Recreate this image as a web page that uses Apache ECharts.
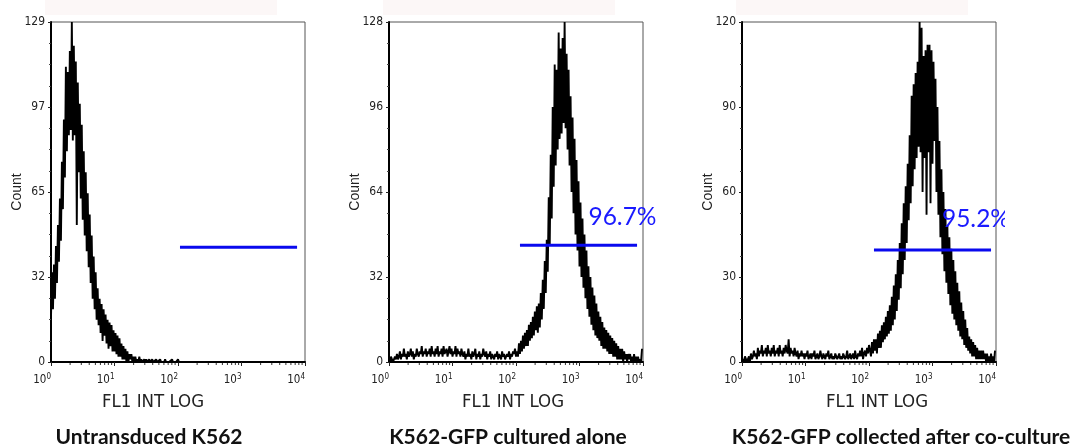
<!DOCTYPE html>
<html><head><meta charset="utf-8">
<script src="https://cdn.jsdelivr.net/npm/echarts@6/dist/echarts.min.js"></script>
<style>html,body{margin:0;padding:0;background:#fff}#c{width:1076px;height:447px}</style>
</head><body><div id="c"></div>
<script>
// ---- data (counts per channel, 64 channels per decade) ----
const panelTitles = ['Untransduced K562', 'K562-GFP cultured alone', 'K562-GFP collected after co-culture'];
const xAxisTitle = 'FL1 INT LOG';
const yAxisTitle = 'Count';
const yMax = [129, 128, 120];
const decadeMin = 1, decadeMax = 10000;

const countsUntransduced = [
17,34,20,37,24,44,30,52,38,62,
46,76,58,92,70,112,80,110,86,118,
88,129,84,120,86,114,52,106,72,98,
62,90,54,80,48,72,42,64,36,56,
30,48,24,40,20,34,16,28,14,24,
11,22,8,20,10,18,7,16,5,15,
6,14,4,12,4,11,3,10,2,9,
2,7,1,6,1,5,0,4,0,3,
1,3,0,2,0,2,0,1,0,2,
0,1,0,0,1,0,1,0,0,1,
0,0,1,0,0,0,1,0,0,0,
1,0,0,0,0,1,0,0,0,0,
0,0,1,0,0,0,0,0,1,0,0
];
const countsAlone = [
1,0,2,1,0,1,2,1,3,1,
2,4,1,3,2,5,2,3,1,4,
2,3,5,2,4,1,3,2,5,3,
2,4,3,6,2,4,3,5,2,4,
3,5,2,6,3,4,2,5,3,6,
2,4,3,5,2,6,3,4,5,2,
4,6,3,5,2,4,3,6,2,5,
3,4,2,5,3,2,4,1,3,2,
5,2,3,1,4,2,3,5,1,3,
2,4,1,3,2,5,3,2,4,1,
3,2,4,1,3,2,1,3,2,4,
1,3,2,1,4,2,3,1,2,3,
2,4,1,3,2,4,3,5,2,4,
2,7,3,8,4,10,5,11,6,12,
6,14,8,15,9,17,10,19,12,21,
11,22,13,26,16,31,20,38,26,46,
34,62,44,78,54,96,66,112,74,110,
80,124,84,118,86,122,90,128,88,116,
80,110,74,100,64,92,56,84,48,76,
42,68,36,60,32,54,28,48,24,42,
20,36,17,32,14,28,12,25,10,22,
9,19,8,17,6,15,5,13,5,12,
4,11,3,10,3,9,2,8,2,7,
1,6,1,5,1,5,0,4,1,3,
0,3,1,3,0,2,0,3,0,2,
0,2,0,1,0,5
];
const countsCoculture = [
0,1,0,2,1,0,1,2,0,3,
1,2,4,2,3,1,5,2,4,3,
6,2,4,3,5,2,6,3,4,2,
5,3,6,2,4,3,5,2,6,3,
4,2,5,3,6,4,3,8,2,5,
3,4,2,5,3,2,4,1,3,2,
4,2,3,1,3,2,4,1,2,3,
1,3,2,4,1,2,3,1,2,4,
2,1,3,2,1,3,2,4,1,2,
3,1,2,1,3,2,1,2,3,1,
2,1,3,2,1,2,4,1,2,3,
1,2,3,1,4,2,1,3,2,4,
2,5,1,3,4,2,5,3,6,4,
2,7,3,8,4,8,3,10,5,11,
5,13,7,14,8,16,9,18,10,20,
11,23,13,27,15,31,18,36,22,42,
26,49,31,56,36,62,42,70,50,80,
56,94,62,98,68,102,72,106,76,120,
74,118,60,108,72,110,52,112,74,112,
56,110,70,106,78,100,60,90,52,78,
44,68,38,60,32,54,28,48,24,44,
20,40,17,36,15,32,13,28,11,25,
9,21,8,18,6,15,5,12,4,9,
3,8,2,7,2,6,1,5,1,4,
1,4,1,4,1,3,0,3,0,2,
0,3,0,2,0,4
];
const panelCounts = [countsUntransduced, countsAlone, countsCoculture];
const channelMax = 256;
// gates (channel range and level in counts) and percentages
const gateFrom = [130, 132, 133];
const gateTo = [248, 250, 251];
const gateLevel = [43.5, 44, 39.5];
const gatePercent = ['', '96.7%', '95.2%'];
// minor tick values of the log axis (2..9 in each decade)
const minorTickValues = [];
for (let d = 1; d < decadeMax; d *= 10) for (let m = 2; m <= 9; m++) minorTickValues.push(m * d);

// ---- layout ----
const gridLeft = [51, 389, 742];
const gridTop = 22, gridW = 254, gridH = 340;
const axisTitleX = [153, 513, 877];
const captionX = [149, 508, 901];
const labelAnchor = [null, [201, 54.5], [201.5, 50.5]];

const chart = echarts.init(document.getElementById('c'), null, {renderer: 'canvas'});
const grids = [], xAxes = [], yAxes = [], series = [], graphics = [];
const tickFont = 'Liberation Sans, Arial, sans-serif';
const narrowFont = '"Liberation Sans Narrow", "Arial Narrow", "DejaVu Sans Condensed", sans-serif';

for (let p = 0; p < 3; p++) {
  grids.push({left: gridLeft[p], top: gridTop, width: gridW, height: gridH, show: true, borderColor: '#555', borderWidth: 1, backgroundColor: 'transparent'});
  // hidden channel axis used for the data
  xAxes.push({gridIndex: p, type: 'value', min: 0, max: channelMax, show: false});
  // visible log intensity axis
  xAxes.push({
    gridIndex: p, type: 'log', logBase: 10, min: decadeMin, max: decadeMax, position: 'bottom',
    axisLine: {show: true, lineStyle: {color: '#000', width: 2}},
    axisTick: {show: true, length: 4, lineStyle: {color: '#222', width: 1}},
    splitLine: {show: false},
    axisLabel: {
      margin: 11, align: 'right',
      formatter: v => '{b|10}{s|' + Math.round(Math.log10(v)) + '}',
      rich: {
        b: {fontSize: 11.5, fontFamily: narrowFont, color: '#222'},
        s: {fontSize: 8, fontFamily: narrowFont, color: '#222', padding: [0, 0, 7, 0]}
      }
    }
  });
  yAxes.push({
    gridIndex: p, type: 'value', min: 0, max: yMax[p], interval: yMax[p] / 4,
    name: yAxisTitle, nameLocation: 'middle', nameGap: 27, nameRotate: 90, nameMoveOverlap: false,
    nameTextStyle: {fontSize: 14, fontFamily: tickFont, color: '#222'},
    axisLine: {show: true, lineStyle: {color: '#000', width: 2}},
    axisTick: {show: true, length: 3, lineStyle: {color: '#222'}},
    minorTick: {show: true, splitNumber: 4, length: 2, lineStyle: {color: '#444'}},
    splitLine: {show: false},
    axisLabel: {fontSize: 12, fontFamily: narrowFont, color: '#222', margin: 6, formatter: v => String(Math.round(v))}
  });
  const xi = p * 2;
  series.push({
    type: 'line', xAxisIndex: xi, yAxisIndex: p, showSymbol: false, symbol: 'none',
    data: panelCounts[p].map((c, i) => [i, c]),
    lineStyle: {color: '#000', width: 1.9}, animation: false, z: 2
  });
  const gate = {
    type: 'line', xAxisIndex: xi, yAxisIndex: p, symbol: 'none',
    data: [[gateFrom[p], gateLevel[p]], [gateTo[p], gateLevel[p]]],
    lineStyle: {color: '#0a0aee', width: 3}, animation: false, z: 5
  };
  if (gatePercent[p]) {
    gate.markPoint = {
      symbol: 'circle', symbolSize: 0, animation: false,
      data: [{coord: labelAnchor[p], value: gatePercent[p]}],
      label: {show: true, position: 'right', distance: 0, formatter: gatePercent[p], fontSize: 24.5, fontFamily: 'Lato, sans-serif', color: '#1a1aff'}
    };
  }
  series.push(gate);
  series.push({
    type: 'custom', xAxisIndex: xi + 1, yAxisIndex: p, clip: false, animation: false, silent: true,
    data: minorTickValues.map(v => [v, 0]),
    renderItem: (params, api) => {
      const pt = api.coord([api.value(0), 0]);
      return {type: 'line', shape: {x1: pt[0], y1: pt[1] + 1, x2: pt[0], y2: pt[1] + 3}, style: {stroke: '#333', lineWidth: 1}};
    }
  });
  graphics.push({type: 'rect', left: gridLeft[p] - 6, top: 0, shape: {width: 232, height: 15}, style: {fill: '#fcf7f7'}, z: -1});
  graphics.push({type: 'text', x: axisTitleX[p], y: 402, style: {text: xAxisTitle, fontSize: 18.5, fontFamily: narrowFont, fill: '#222', align: 'center', verticalAlign: 'middle'}});
  graphics.push({type: 'text', x: captionX[p], y: 437, style: {text: panelTitles[p], fontSize: 21, fontWeight: 'bold', fontFamily: 'Lato, sans-serif', fill: '#111', align: 'center', verticalAlign: 'middle'}});
}
// the right edge of the third percentage is cut off in the reference
graphics.push({type: 'rect', left: 1005, top: 195, shape: {width: 71, height: 45}, style: {fill: '#fff'}, z: 100});

chart.setOption({
  animation: false,
  backgroundColor: '#fff',
  grid: grids, xAxis: xAxes, yAxis: yAxes, series: series, graphic: graphics
});
</script></body></html>
